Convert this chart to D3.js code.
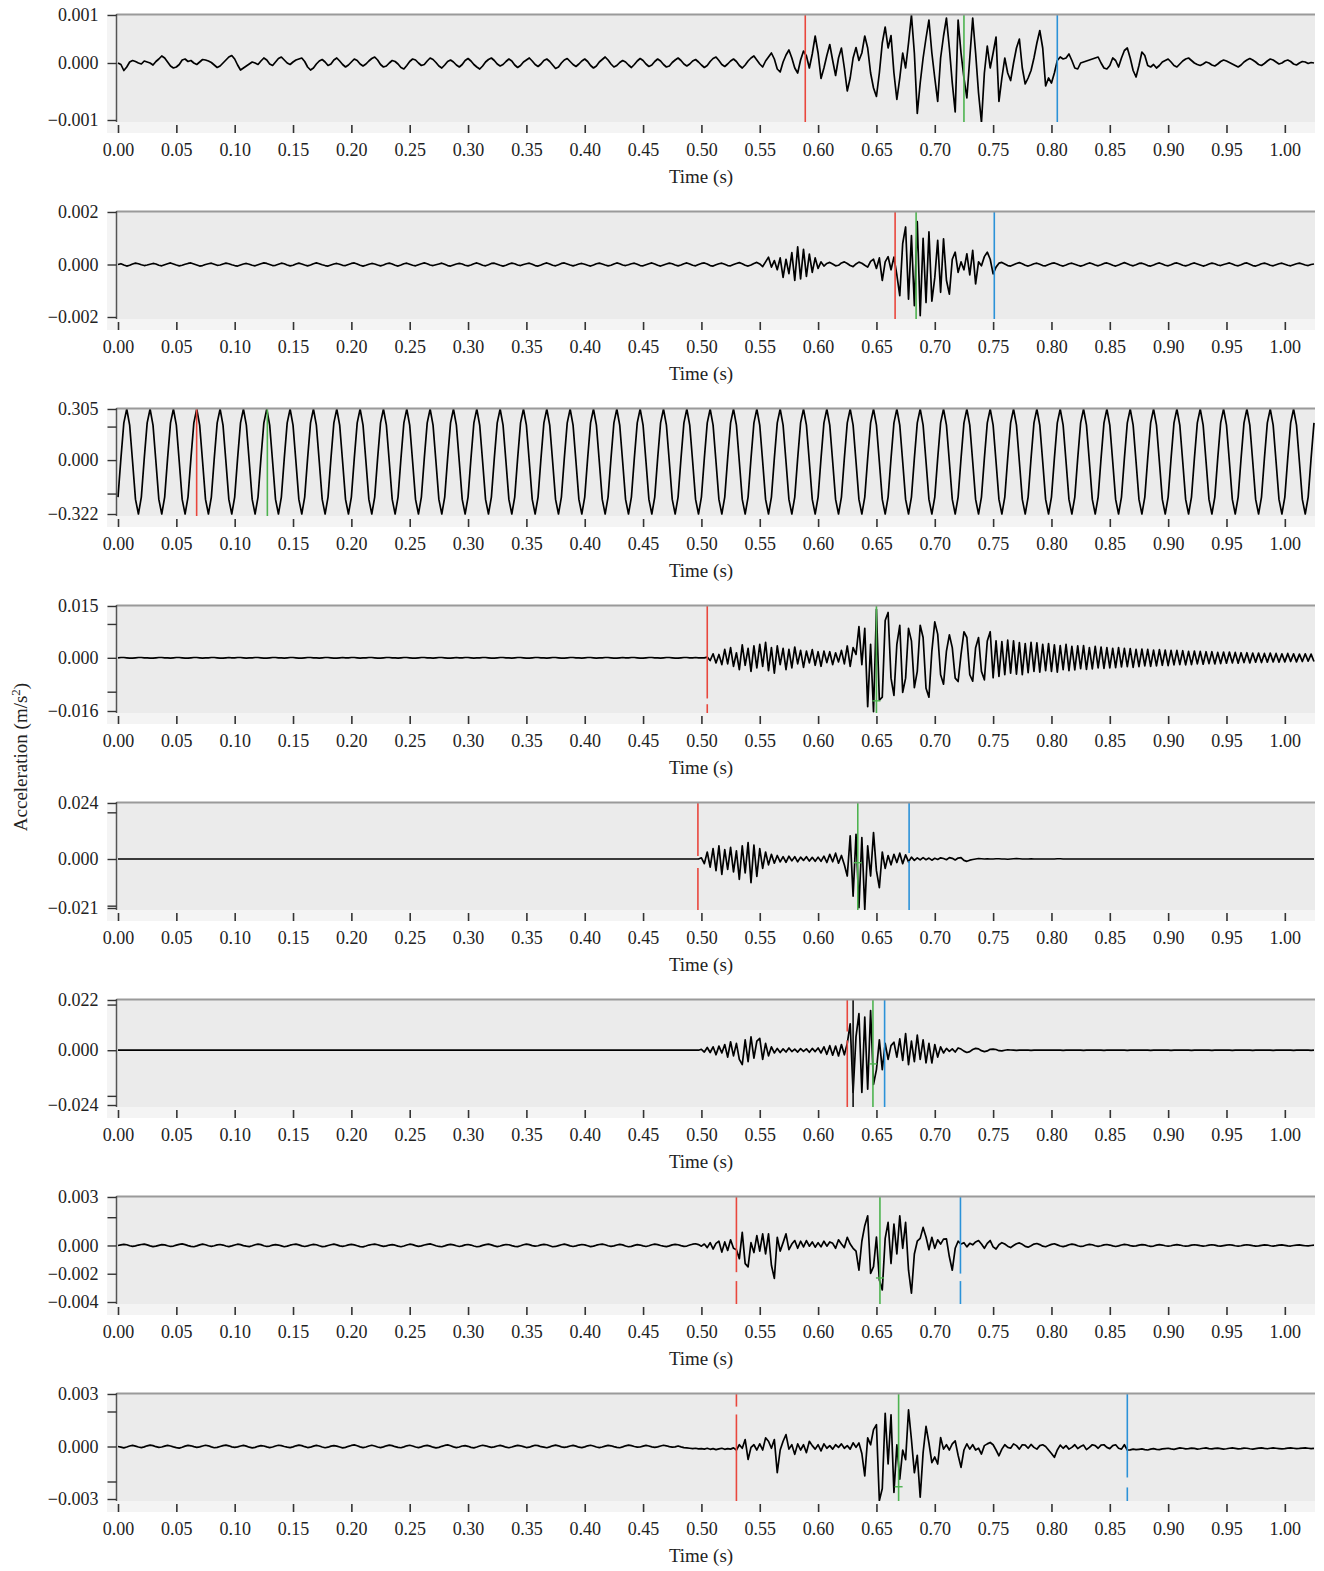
<!DOCTYPE html>
<html>
<head>
<meta charset="utf-8">
<script src="https://cdn.jsdelivr.net/npm/d3@7"></script>
<style>
	body { margin: 0; background: #fff; }
	text { font-family: "Liberation Serif", "Times New Roman", serif; fill: #222; }
</style>
</head>
<body>
<svg id="chart" width="1324" height="1571"></svg>
<script>
// sample spacing of every record, seconds
const timeStep = 0.0025

const timeTicks = [0.00, 0.05, 0.10, 0.15, 0.20, 0.25, 0.30, 0.35, 0.40, 0.45, 0.50,
	0.55, 0.60, 0.65, 0.70, 0.75, 0.80, 0.85, 0.90, 0.95, 1.00]

// record 1, units of 1e-5 m/s^2
const acc1 = [
	0, -3, -15, -8, 2, 5, 3, 0, -2, 4, 2, 0, -4, 3, 8, 14, 10, 2, -6, -10,
	-8, -3, 6, 8, 3, 5, 0, -3, 2, 7, 6, 4, 1, -4, -9, -6, 0, 6, 12, 15,
	8, -4, -14, -10, -6, -2, 2, 0, -3, 4, 10, 6, -2, -5, 2, 9, 12, 6, 0, -3,
	2, 6, 8, 10, 3, -8, -14, -10, -2, 4, 7, 2, -5, -2, 6, 10, 4, -3, -8, -4,
	2, 8, 5, -2, -6, -2, 4, 9, 12, 6, -3, -8, -6, 0, 5, 3, -2, -9, -12, -5,
	3, 8, 6, 0, -5, -3, 4, 10, 7, 1, -6, -10, -4, 3, 6, 2, -4, -8, -3, 5,
	9, 4, -3, -8, -12, -6, 2, 7, 10, 5, -2, -6, -3, 3, 8, 4, -4, -9, -5, 2,
	6, 10, 4, -3, -7, -2, 5, 8, 3, -4, -11, -8, 0, 6, 9, 3, -3, -7, -2, 4,
	8, 3, -5, -10, -6, 2, 7, 12, 6, -2, -8, -5, 1, 5, 2, -4, -9, -3, 4, 9,
	5, -2, -7, -4, 3, 8, 4, -3, -8, -6, 1, 6, 10, 5, -2, -6, -2, 4, 7, 2,
	-4, -9, -5, 3, 9, 12, 5, -3, -7, -2, 4, 8, 3, -5, -10, -4, 4, 10, 14, 6,
	-2, -8, 4, 12, 20, 8, -12, -18, 2, 16, 26, 10, -10, -20, 6, 24, 14, -10, 18, 54,
	20, -31, -10, 15, 37, 5, -25, 10, 30, -10, -56, -30, 10, 31, 5, 20, 54, 30, -20, -50,
	-67, -20, 40, 72, 30, 55, -20, -73, -30, 20, -10, 40, 96, 20, -101, -40, 10, 50, 86, 20,
	-30, -77, 10, 54, 90, 30, -40, -98, 86, 20, -30, -70, 10, 90, 20, -60, -119, -20, 34, -10,
	20, 52, -77, -30, 10, -20, -35, 0, 30, 48, -10, -42, -30, -15, 10, 40, 65, 30, -46, -30,
	-40, -20, 5, 12, 8, 10, 18, 5, -10, -12, 0, 2, 4, 6, 8, 10, 12, 0, -10, -12,
	-5, 10, 5, -8, 10, 25, 30, 10, -15, -28, -5, 22, 15, -5, -8, -3, -10, -5, 2, 5,
	8, 2, -5, -8, -2, 4, 8, 10, 5, 0, -3, -5, -2, 2, 0, -4, -6, -2, 3, 6,
	4, 1, -2, -5, -8, -4, 2, 6, 9, 6, 2, -3, -5, -1, 4, 8, 6, 2, -2, 0,
	4, 6, 3, -2, -4, 0, 3, 2, -1, 1, 0
]

// record 2, units of 1e-5 m/s^2
const acc2 = [
	0, 3, -2, -6, -3, 2, 5, 3, -1, -4, -2, 1, 4, 2, -3, -5, -1, 3, 6, 2,
	-2, -5, -3, 1, 4, 6, 2, -2, -6, -4, 0, 3, 5, 1, -3, -2, 2, 5, 3, -1,
	-4, -6, -2, 2, 4, 1, -3, -5, -1, 3, 6, 4, 0, -4, -3, 1, 5, 3, -2, -5,
	-3, 2, 5, 2, -2, -5, -2, 3, 6, 3, -1, -4, -6, -2, 2, 4, 1, -3, -4, 0,
	4, 6, 2, -3, -6, -3, 1, 4, 2, -2, -5, -2, 3, 5, 2, -3, -6, -2, 3, 5,
	1, -3, -5, -1, 3, 6, 3, -2, -4, -1, 2, 5, 1, -4, -6, -2, 2, 4, 2, -3,
	-5, -2, 3, 6, 2, -3, -5, -1, 4, 5, 1, -3, -6, -3, 2, 5, 3, -2, -4, 0,
	3, 5, 1, -4, -6, -2, 3, 6, 2, -3, -5, -1, 4, 6, 2, -2, -5, -2, 2, 4,
	1, -3, -6, -2, 3, 5, 2, -2, -5, -3, 2, 6, 3, -2, -4, -1, 3, 5, 1, -4,
	-5, -1, 3, 6, 2, -3, -6, -2, 2, 5, 3, -2, -5, -2, 3, 6, 2, -3, -5, 0,
	4, 6, 2, -4, -6, -1, 3, 5, 1, -4, -5, 0, 4, 7, 3, -3, -6, -2, 4, 8,
	2, -8, 10, 28, -10, 15, -20, 25, -49, 20, -35, 45, -61, 67, -55, 58, -45, 40, -30, 25,
	-15, 10, -6, 4, 8, 2, -5, -3, 6, 10, 4, -4, -8, 2, 9, 5, -3, -10, 12, 20,
	-15, 25, -61, 10, 30, -20, 28, -40, -119, 80, 143, -132, 110, -157, 163, -195, 100, -145, 124, -140,
	-50, 92, -106, 98, -60, -113, 20, 47, -30, 10, -20, 41, -40, 54, -74, 10, -5, 30, 47, 20,
	-36, -10, 5, 8, 2, -4, -6, -1, 4, 7, 3, -3, -6, -2, 3, 5, 1, -4, -5, 0,
	4, 6, 2, -3, -6, -2, 3, 5, 1, -3, -6, -3, 2, 6, 3, -2, -5, -1, 4, 6,
	2, -3, -6, -2, 3, 7, 3, -2, -5, -1, 4, 5, 1, -4, -6, -2, 3, 6, 2, -3,
	-5, -1, 4, 6, 2, -3, -5, -2, 3, 6, 2, -2, -6, -3, 2, 5, 3, -2, -4, 0,
	3, 6, 2, -3, -5, -1, 4, 6, 1, -4, -6, -2, 3, 5, 2, -3, -5, -1, 3, 5,
	1, -3, -5, -1, 3, 5, 2, -2, -4, 0, 2
]

// record 3 (50 Hz reference tone), units of 1e-3 m/s^2
const acc3 = [
	-221, 10, 222, 305, 209, -10, -235, -322, -221, 10, 222, 305, 209, -10, -235, -322,
	-221, 10, 222, 305, 209, -10, -235, -322, -221, 10, 222, 305, 209, -10, -235, -322,
	-221, 10, 222, 305, 209, -10, -235, -322, -221, 10, 222, 305, 209, -10, -235, -322,
	-221, 10, 222, 305, 209, -10, -235, -322, -221, 10, 222, 305, 209, -10, -235, -322,
	-221, 10, 222, 305, 209, -10, -235, -322, -221, 10, 222, 305, 209, -10, -235, -322,
	-221, 10, 222, 305, 209, -10, -235, -322, -221, 10, 222, 305, 209, -10, -235, -322,
	-221, 10, 222, 305, 209, -10, -235, -322, -221, 10, 222, 305, 209, -10, -235, -322,
	-221, 10, 222, 305, 209, -10, -235, -322, -221, 10, 222, 305, 209, -10, -235, -322,
	-221, 10, 222, 305, 209, -10, -235, -322, -221, 10, 222, 305, 209, -10, -235, -322,
	-221, 10, 222, 305, 209, -10, -235, -322, -221, 10, 222, 305, 209, -10, -235, -322,
	-221, 10, 222, 305, 209, -10, -235, -322, -221, 10, 222, 305, 209, -10, -235, -322,
	-221, 10, 222, 305, 209, -10, -235, -322, -221, 10, 222, 305, 209, -10, -235, -322,
	-221, 10, 222, 305, 209, -10, -235, -322, -221, 10, 222, 305, 209, -10, -235, -322,
	-221, 10, 222, 305, 209, -10, -235, -322, -221, 10, 222, 305, 209, -10, -235, -322,
	-221, 10, 222, 305, 209, -10, -235, -322, -221, 10, 222, 305, 209, -10, -235, -322,
	-221, 10, 222, 305, 209, -10, -235, -322, -221, 10, 222, 305, 209, -10, -235, -322,
	-221, 10, 222, 305, 209, -10, -235, -322, -221, 10, 222, 305, 209, -10, -235, -322,
	-221, 10, 222, 305, 209, -10, -235, -322, -221, 10, 222, 305, 209, -10, -235, -322,
	-221, 10, 222, 305, 209, -10, -235, -322, -221, 10, 222, 305, 209, -10, -235, -322,
	-221, 10, 222, 305, 209, -10, -235, -322, -221, 10, 222, 305, 209, -10, -235, -322,
	-221, 10, 222, 305, 209, -10, -235, -322, -221, 10, 222, 305, 209, -10, -235, -322,
	-221, 10, 222, 305, 209, -10, -235, -322, -221, 10, 222, 305, 209, -10, -235, -322,
	-221, 10, 222, 305, 209, -10, -235, -322, -221, 10, 222, 305, 209, -10, -235, -322,
	-221, 10, 222, 305, 209, -10, -235, -322, -221, 10, 222, 305, 209, -10, -235, -322,
	-221, 10, 222, 305, 209, -10, -235, -322, -221, 10, 222, 305, 209, -10, -235, -322,
	-221, 10, 222, 305, 209, -10, -235, -322, -221, 10, 222
]

// record 4, units of 1e-4 m/s^2
const acc4 = [
	0, 1, 1, 0, -1, -1, 0, 1, 1, 0, 0, -1, -1, 0, 1, 1, 0, 0, -1, 0,
	1, 1, 0, -1, -1, 0, 1, 1, 0, -1, 0, 0, 1, 1, 0, -1, -1, 0, 1, 0,
	0, 1, 1, 0, -1, 0, 0, 1, 1, 0, -1, -1, 0, 1, 1, 0, 0, -1, 0, 1,
	1, 0, -1, -1, 0, 1, 1, 0, 0, -1, 0, 1, 1, 0, -1, -1, 0, 1, 0, 0,
	1, 1, 0, -1, 0, 0, 1, 1, 0, -1, -1, 0, 1, 1, 0, 0, -1, 0, 1, 1,
	0, -1, -1, 0, 1, 1, 0, 0, -1, 0, 1, 1, 0, -1, -1, 0, 1, 0, 0, 1,
	1, 0, -1, 0, 0, 1, 1, 0, -1, -1, 0, 1, 1, 0, 0, -1, 0, 1, 1, 0,
	-1, -1, 0, 1, 1, 0, 0, -1, 0, 1, 1, 0, -1, -1, 0, 1, 1, 0, 0, -1,
	0, 1, 1, 0, -1, 0, 0, 1, 1, 0, -1, -1, 0, 1, 0, 0, 1, 1, 0, -1,
	-1, 0, 1, 1, 0, 0, -1, 0, 1, 1, 0, -1, -1, 0, 1, 1, 0, 0, 1, 0,
	0, 0, 2, -8, 12, -15, 10, -20, 25, -18, 30, -25, 15, -35, 38, -22, 28, -40, 35, -30,
	40, -25, 46, -38, 30, -45, 35, -20, 28, -35, 25, -30, 32, -18, 22, -28, 20, -15, 24, -22,
	18, -25, 20, -14, 18, -20, 15, -12, 22, -18, 35, -25, 30, 10, 92, -20, 87, -144, 40, -159,
	143, -125, -116, 110, 134, -60, -111, 40, 96, -102, -60, 87, 50, -88, -40, 96, 60, -90, -116, 20,
	106, 70, -50, -78, 20, 68, 30, -60, -70, 10, 77, 60, -50, -69, 30, 60, -40, -65, 50, 77,
	-59, 50, -55, 48, -50, 52, -45, 50, -48, 45, -50, 42, -44, 46, -40, 44, -42, 40, -38, 42,
	-40, 38, -42, 36, -35, 40, -38, 34, -36, 35, -32, 36, -34, 30, -33, 34, -30, 32, -31, 30,
	-30, 28, -29, 30, -27, 28, -26, 27, -28, 25, -26, 26, -24, 25, -25, 23, -24, 24, -22, 23,
	-23, 22, -21, 22, -20, 21, -21, 19, -20, 20, -18, 19, -19, 18, -17, 18, -18, 16, -17, 17,
	-16, 17, -15, 16, -16, 15, -14, 15, -15, 14, -13, 14, -14, 13, -13, 14, -12, 13, -13, 12,
	-12, 13, -11, 12, -12, 11, -11, 12, -10, 11, -11
]

// record 5, units of 1e-4 m/s^2
const acc5 = [
	0, 0, 0, 0, 0, 0, 0, 0, 0, 0, 0, 0, 0, 0, 0, 0, 0, 0, 0, 0,
	0, 0, 0, 0, 0, 0, 0, 0, 0, 0, 0, 0, 0, 0, 0, 0, 0, 0, 0, 0,
	0, 0, 0, 0, 0, 0, 0, 0, 0, 0, 0, 0, 0, 0, 0, 0, 0, 0, 0, 0,
	0, 0, 0, 0, 0, 0, 0, 0, 0, 0, 0, 0, 0, 0, 0, 0, 0, 0, 0, 0,
	0, 0, 0, 0, 0, 0, 0, 0, 0, 0, 0, 0, 0, 0, 0, 0, 0, 0, 0, 0,
	0, 0, 0, 0, 0, 0, 0, 0, 0, 0, 0, 0, 0, 0, 0, 0, 0, 0, 0, 0,
	0, 0, 0, 0, 0, 0, 0, 0, 0, 0, 0, 0, 0, 0, 0, 0, 0, 0, 0, 0,
	0, 0, 0, 0, 0, 0, 0, 0, 0, 0, 0, 0, 0, 0, 0, 0, 0, 0, 0, 0,
	0, 0, 0, 0, 0, 0, 0, 0, 0, 0, 0, 0, 0, 0, 0, 0, 0, 0, 0, 0,
	0, 0, 0, 0, 0, 0, 0, 0, 0, 0, 0, 0, 0, 0, 0, 0, 0, 0, 0, 0,
	5, -20, 30, -35, 45, -50, 56, -66, 40, -45, 50, -55, 35, -87, 56, -60, 70, -101, 60, -75,
	45, -40, 30, -25, 20, -18, 15, -12, 10, -14, 12, -8, 10, -12, 8, -6, 10, -9, 7, -10,
	8, -10, 12, -15, 20, -12, 25, -18, 15, -25, -73, 99, -159, 106, -209, 92, -216, 56, -73, 113,
	-50, -123, 30, -40, 15, -25, 20, -15, 25, -20, 18, -12, 8, -6, 5, -4, 6, -3, 4, -5,
	3, -2, 5, 2, -3, 6, 3, -4, 4, 6, -6, -10, -5, -2, 0, 2, 1, 0, 1, 0,
	0, 1, 1, 0, 0, -1, 0, 1, 2, 1, 0, 0, 0, 1, 0, 0, 0, 0, 0, 0,
	0, 0, 1, 1, 0, 0, 0, 0, 0, 0, 0, 0, 0, 0, 0, 0, 0, 0, 0, 0,
	0, 0, 0, 0, 0, 0, 0, 0, 0, 0, 0, 0, 0, 0, 0, 0, 0, 0, 0, 0,
	0, 0, 0, 0, 0, 0, 0, 0, 0, 0, 0, 0, 0, 0, 0, 0, 0, 0, 0, 0,
	0, 0, 0, 0, 0, 0, 0, 0, 0, 0, 0, 0, 0, 0, 0, 0, 0, 0, 0, 0,
	0, 0, 0, 0, 0, 0, 0, 0, 0, 0, 0
]

// record 6, units of 1e-4 m/s^2
const acc6 = [
	0, 0, 0, 0, 0, 0, 0, 0, 0, 0, 0, 0, 0, 0, 0, 0, 0, 0, 0, 0,
	0, 0, 0, 0, 0, 0, 0, 0, 0, 0, 0, 0, 0, 0, 0, 0, 0, 0, 0, 0,
	0, 0, 0, 0, 0, 0, 0, 0, 0, 0, 0, 0, 0, 0, 0, 0, 0, 0, 0, 0,
	0, 0, 0, 0, 0, 0, 0, 0, 0, 0, 0, 0, 0, 0, 0, 0, 0, 0, 0, 0,
	0, 0, 0, 0, 0, 0, 0, 0, 0, 0, 0, 0, 0, 0, 0, 0, 0, 0, 0, 0,
	0, 0, 0, 0, 0, 0, 0, 0, 0, 0, 0, 0, 0, 0, 0, 0, 0, 0, 0, 0,
	0, 0, 0, 0, 0, 0, 0, 0, 0, 0, 0, 0, 0, 0, 0, 0, 0, 0, 0, 0,
	0, 0, 0, 0, 0, 0, 0, 0, 0, 0, 0, 0, 0, 0, 0, 0, 0, 0, 0, 0,
	0, 0, 0, 0, 0, 0, 0, 0, 0, 0, 0, 0, 0, 0, 0, 0, 0, 0, 0, 0,
	0, 0, 0, 0, 0, 0, 0, 0, 0, 0, 0, 0, 0, 0, 0, 0, 0, 0, 0, 0,
	4, -8, 12, -10, 15, -20, 18, -12, 25, -30, 37, -25, 30, -40, -63, 45, -50, 59, -35, 40,
	52, -40, 30, -25, 15, -12, 8, -10, 6, -8, 10, -6, 5, -8, 7, -5, 6, -9, 8, -6,
	10, -12, 15, -18, 20, -22, 18, -25, 25, -20, 30, 116, -185, 60, 160, -185, 145, -171, 174, -150,
	-85, 45, -85, 30, -40, 20, 35, -30, 50, -45, 73, -63, 40, -50, 66, -40, 45, -55, 30, -56,
	25, -30, 15, -12, 8, -5, 6, -8, 10, 5, -4, -10, -6, 3, 8, 6, -2, -6, -3, 4,
	5, 3, -2, -3, 0, 2, 1, 0, -1, 0, 1, 0, 0, -1, 0, 0, 1, 0, 0, 0,
	0, 1, 0, 0, -1, 0, 0, 1, 0, 0, 0, -1, 0, 0, 1, 0, 0, 0, -1, 0,
	0, 0, 1, 0, 0, 0, -1, 0, 0, 1, 0, 0, 0, 0, -1, 0, 0, 1, 0, 0,
	0, -1, 0, 0, 1, 0, 0, 0, -1, 0, 0, 0, 1, 0, 0, -1, 0, 0, 0, 1,
	0, 0, -1, 0, 0, 1, 0, 0, 0, -1, 0, 0, 1, 0, 0, 0, -1, 0, 0, 0,
	1, 0, 0, -1, 0, 0, 1, 0, 0, -1, 0
]

// record 7, units of 1e-5 m/s^2
const acc7 = [
	0, 4, 8, 5, -2, -6, -3, 3, 7, 10, 4, -3, -8, -5, 1, 6, 4, -2, -7, -4,
	2, 8, 11, 6, -1, -6, -9, -3, 4, 9, 5, -2, -6, -2, 4, 7, 3, -4, -8, -3,
	3, 9, 6, -1, -5, -8, -2, 5, 10, 6, -2, -7, -4, 2, 6, 3, -3, -9, -5, 2,
	7, 10, 4, -3, -7, -3, 3, 8, 5, -2, -8, -6, 0, 5, 9, 4, -3, -6, -2, 4,
	8, 4, -2, -8, -10, -4, 3, 7, 10, 5, -1, -6, -3, 3, 6, 2, -5, -9, -4, 3,
	9, 6, -1, -6, -3, 3, 8, 11, 5, -2, -7, -9, -3, 4, 8, 4, -2, -7, -3, 4,
	7, 3, -4, -9, -6, 1, 6, 9, 4, -3, -8, -4, 2, 7, 5, -1, -6, -8, -2, 5,
	10, 6, -1, -5, -2, 4, 8, 5, -2, -9, -7, -1, 5, 9, 4, -3, -7, -3, 3, 7,
	4, -2, -8, -5, 2, 7, 10, 5, -2, -6, -3, 3, 8, 4, -4, -9, -6, 1, 6, 3,
	-3, -7, -2, 5, 9, 6, 0, -5, -8, -3, 4, 8, 5, -1, -6, -4, 3, 9, 12, 6,
	-5, 10, -15, 20, -25, 15, 30, -47, 25, -35, 40, -20, -30, -93, 93, -128, -151, 20, -50, 70,
	-40, 82, -60, 82, -140, -233, 58, -40, 20, 82, -30, 10, 35, -20, 30, -10, 35, -5, 25, -12,
	20, -10, 30, -5, 25, 15, -20, 40, 10, -15, 58, 10, -20, -40, -175, 30, 140, 210, -198, -150,
	60, -245, -315, 50, 163, -128, 152, -60, 210, -20, 163, -175, -338, -60, 30, 50, 128, 60, -30, 58,
	-20, 40, 10, 45, 47, -80, -175, -20, 30, 10, 20, -10, 15, 5, 25, 35, 10, -20, 15, 35,
	-10, -25, 5, 20, 10, -5, -15, 0, 12, 18, 8, -6, -12, -2, 10, 14, 6, -5, -9, 0,
	8, 12, 4, -4, -8, -3, 5, 10, 6, -2, -7, -4, 3, 8, 5, -2, -6, -2, 4, 7,
	3, -3, -7, -3, 3, 8, 5, -1, -5, -3, 2, 6, 4, -2, -6, -4, 2, 6, 3, -2,
	-5, -2, 3, 6, 3, -2, -5, -3, 2, 5, 3, -1, -4, -2, 2, 5, 2, -3, -5, -1,
	3, 5, 2, -2, -5, -2, 2, 5, 3, -1, -4, -3, 1, 4, 3, -2, -4, -1, 3, 4,
	1, -3, -4, 0, 3, 4, 1, -2, -3, 0, 2
]

// record 8, units of 1e-5 m/s^2
const acc8 = [
	0, -4, -8, -3, 3, 6, 2, -3, -6, -2, 4, 8, 5, -1, -5, -3, 2, 6, 3, -2,
	-6, -9, -4, 2, 6, 4, -1, -5, -2, 3, 7, 4, -2, -7, -5, 0, 5, 8, 4, -2,
	-5, -2, 3, 6, 2, -4, -8, -5, 1, 5, 3, -2, -6, -3, 3, 7, 5, 0, -4, -6,
	-2, 4, 8, 5, -1, -6, -4, 2, 6, 3, -3, -7, -4, 2, 5, 2, -3, -8, -5, 1,
	6, 9, 4, -2, -6, -3, 3, 7, 3, -3, -6, -2, 4, 8, 5, -1, -5, -7, -2, 4,
	7, 3, -3, -6, -2, 4, 6, 2, -4, -8, -5, 1, 6, 9, 4, -2, -6, -3, 3, 5,
	1, -5, -8, -3, 3, 7, 4, -1, -5, -2, 3, 6, 2, -4, -7, -3, 2, 6, 4, -1,
	-6, -4, 2, 7, 5, -1, -4, -7, -2, 4, 8, 4, -2, -5, -2, 3, 6, 2, -4, -6,
	-2, 4, 7, 3, -3, -6, -3, 2, 6, 4, -1, -5, -7, -2, 4, 8, 5, 0, -4, -3,
	2, 6, 3, -2, -5, -2, 3, 7, 4, -1, -4, -2, 3, -2, -6, -8, -10, -12, -10, -14,
	-12, -15, -10, -16, -12, -18, -14, -10, -16, -12, -15, -8, -20, 10, -10, 40, -74, -5, 10, -20,
	15, -20, 49, 30, -10, 40, -149, -20, 30, 68, -15, 10, -45, 15, -20, 10, -35, 30, 5, -15,
	10, -25, 15, -10, 5, -15, 10, -5, 15, -10, 5, -15, 21, -5, 20, -40, -168, 49, 10, 96,
	125, -309, -240, 190, -100, 181, -262, 10, -187, -20, -75, 209, 40, -150, -50, -290, -35, 115, 20, -92,
	-60, -100, 51, -15, 10, -20, 15, 32, -50, -119, -20, 15, -15, 10, -20, -10, -43, 5, 15, 23,
	10, -20, -53, -15, 10, -5, -10, 15, 5, -15, 10, 8, -10, 12, -5, -15, 5, 10, 0, -20,
	-40, -62, -20, 8, -10, 5, -15, -5, 10, -12, 0, 8, -18, -5, 10, 5, -10, 8, 10, -5,
	-12, 5, 10, -10, -15, 10, -20, -19, -15, -18, -16, -14, -18, -20, -15, -12, -16, -18, -14, -12,
	-10, -14, -16, -12, -8, -10, -14, -12, -9, -11, -15, -13, -10, -8, -12, -14, -11, -9, -12, -15,
	-13, -10, -8, -11, -14, -12, -9, -10, -13, -15, -12, -9, -8, -11, -13, -10, -8, -10, -12, -14,
	-12, -9, -8, -10, -12, -11, -9, -8, -10, -12, -11
]

const accUnit = [1e-5, 1e-5, 1e-3, 1e-4, 1e-4, 1e-4, 1e-5, 1e-5]
// axis extremes, labelled at three decimals
const accTop = [0.00096, 0.002, 0.305, 0.0153, 0.024, 0.022, 0.00343, 0.003]
const accBottom = [-0.00114, -0.002, -0.322, -0.0157, -0.021, -0.024, -0.0040, -0.003]
const extraLabelled = [[], [], [], [], [], [], [-0.002], []]
const minorTicks = [[], [], [0.2, -0.2], [0.01, -0.01], [0.02, -0.02], [0.02, -0.02], [0.002], [0.002, -0.002]]

// phase picks (s); null where a record has none
const redPick = [0.589, 0.666, 0.0674, 0.505, 0.497, 0.625, 0.530, 0.530]
const greenPick = [0.725, 0.684, 0.128, 0.650, 0.634, 0.647, 0.653, 0.669]
const bluePick = [0.805, 0.751, null, null, 0.678, 0.657, 0.722, 0.865]
const blackPick = [null, null, null, null, null, 0.630, null, null]
// broken parts of the pick lines, in m/s^2
const redGap = [null, null, null, [-0.0137, -0.0120], [-0.0039, 0.0013], [0.0043, 0.0082], [-0.00252, -0.00189], [0.00183, 0.00228]]
const blueGap = [null, null, null, null, [-0.0009, 0.0026], null, [-0.00252, -0.00199], [-0.00234, -0.00177]]
const greenMark = [null, null, null, -0.0127, -0.0016, -0.006, -0.0023, -0.0023]

const records = [acc1, acc2, acc3, acc4, acc5, acc6, acc7, acc8]

const svg = d3.select('#chart')
const plotLeft = 116.5
const plotRight = 1315
const plotH = 108

const x = d3.scaleLinear().domain([0, 1.025]).range([118, 1314])
const fmtX = d3.format('.2f')
const fmtY = d3.format('.3f')

const pickColors = { red: '#e9473d', green: '#4db34f', blue: '#2b92d8', black: '#111' }

records.forEach((acc, i) => {
	const top = 14 + i * 197
	const g = svg.append('g')

	const y = d3.scaleLinear()
		.domain([accBottom[i], accTop[i]])
		.range([top + 106, top + 1])

	// light strip under and left of the plot
	g.append('rect')
		.attr('x', 107).attr('y', top)
		.attr('width', plotRight - 107).attr('height', plotH + 11)
		.attr('fill', '#f4f4f4')
	g.append('rect')
		.attr('x', plotLeft).attr('y', top)
		.attr('width', plotRight - plotLeft).attr('height', plotH)
		.attr('fill', '#ebebeb')

	g.append('clipPath').attr('id', 'clip' + i)
		.append('rect')
		.attr('x', plotLeft).attr('y', top)
		.attr('width', plotRight - plotLeft).attr('height', plotH)

	const line = d3.line()
		.x((d, k) => x(k * timeStep))
		.y(d => y(d * accUnit[i]))

	g.append('path')
		.datum(acc)
		.attr('clip-path', 'url(#clip' + i + ')')
		.attr('d', line)
		.attr('fill', 'none')
		.attr('stroke', '#000')
		.attr('stroke-width', 1.7)
		.attr('stroke-linejoin', 'round')

	// pick lines
	const picks = [
		[redPick[i], pickColors.red, redGap[i]],
		[blackPick[i], pickColors.black, null],
		[greenPick[i], pickColors.green, null],
		[bluePick[i], pickColors.blue, blueGap[i]]
	]
	picks.forEach(([t, color, gap]) => {
		if (t === null) return
		const px = x(t)
		const segs = gap
			? [[top, y(gap[1])], [y(gap[0]), top + plotH]]
			: [[top, top + plotH]]
		segs.forEach(s => {
			g.append('line')
				.attr('x1', px).attr('x2', px)
				.attr('y1', s[0]).attr('y2', s[1])
				.attr('stroke', color)
				.attr('stroke-width', 1.6)
		})
	})
	if (greenMark[i] !== null) {
		const px = x(greenPick[i])
		g.append('line')
			.attr('x1', px - 4).attr('x2', px + 4)
			.attr('y1', y(greenMark[i])).attr('y2', y(greenMark[i]))
			.attr('stroke', pickColors.green)
			.attr('stroke-width', 1.4)
	}

	// top frame and left axis line
	g.append('line')
		.attr('x1', plotLeft).attr('x2', plotRight)
		.attr('y1', top + 0.5).attr('y2', top + 0.5)
		.attr('stroke', '#9a9a9a').attr('stroke-width', 2)
	g.append('line')
		.attr('x1', plotLeft).attr('x2', plotLeft)
		.attr('y1', top).attr('y2', top + plotH)
		.attr('stroke', '#555').attr('stroke-width', 1.5)

	// y axis
	const yAxis = d3.axisLeft(y)
		.tickValues([accTop[i], 0, accBottom[i]].concat(extraLabelled[i]))
		.tickFormat(fmtY)
		.tickSize(9)
		.tickPadding(9)
		.tickSizeOuter(0)
	const ya = g.append('g').attr('transform', `translate(${plotLeft},0)`).call(yAxis)
	ya.select('.domain').remove()
	ya.selectAll('line').attr('stroke', '#333').attr('stroke-width', 1.4)
	ya.selectAll('text').style('font-size', '18px').attr('fill', '#222')

	const yMinor = d3.axisLeft(y)
		.tickValues(minorTicks[i])
		.tickFormat('')
		.tickSize(9)
		.tickSizeOuter(0)
	const ym = g.append('g').attr('transform', `translate(${plotLeft},0)`).call(yMinor)
	ym.select('.domain').remove()
	ym.selectAll('line').attr('stroke', '#333').attr('stroke-width', 1.4)

	// x axis
	const xAxis = d3.axisBottom(x)
		.tickValues(timeTicks)
		.tickFormat(fmtX)
		.tickSize(8)
		.tickPadding(10)
		.tickSizeOuter(0)
	const xa = g.append('g').attr('transform', `translate(0,${top + 111})`).call(xAxis)
	xa.select('.domain').remove()
	xa.selectAll('line').attr('stroke', '#333').attr('stroke-width', 1.6)
	xa.selectAll('text').style('font-size', '18px').attr('fill', '#222')

	g.append('text')
		.attr('x', 701).attr('y', top + 169)
		.attr('text-anchor', 'middle')
		.style('font-size', '19px')
		.text('Time (s)')
})

const yLabel = svg.append('text')
	.attr('transform', 'translate(27,757) rotate(-90)')
	.attr('text-anchor', 'middle')
	.style('font-size', '19px')
yLabel.append('tspan').text('Acceleration (m/s')
yLabel.append('tspan').attr('dy', -7).style('font-size', '13px').text('2')
yLabel.append('tspan').attr('dy', 7).text(')')
</script>
</body>
</html>
